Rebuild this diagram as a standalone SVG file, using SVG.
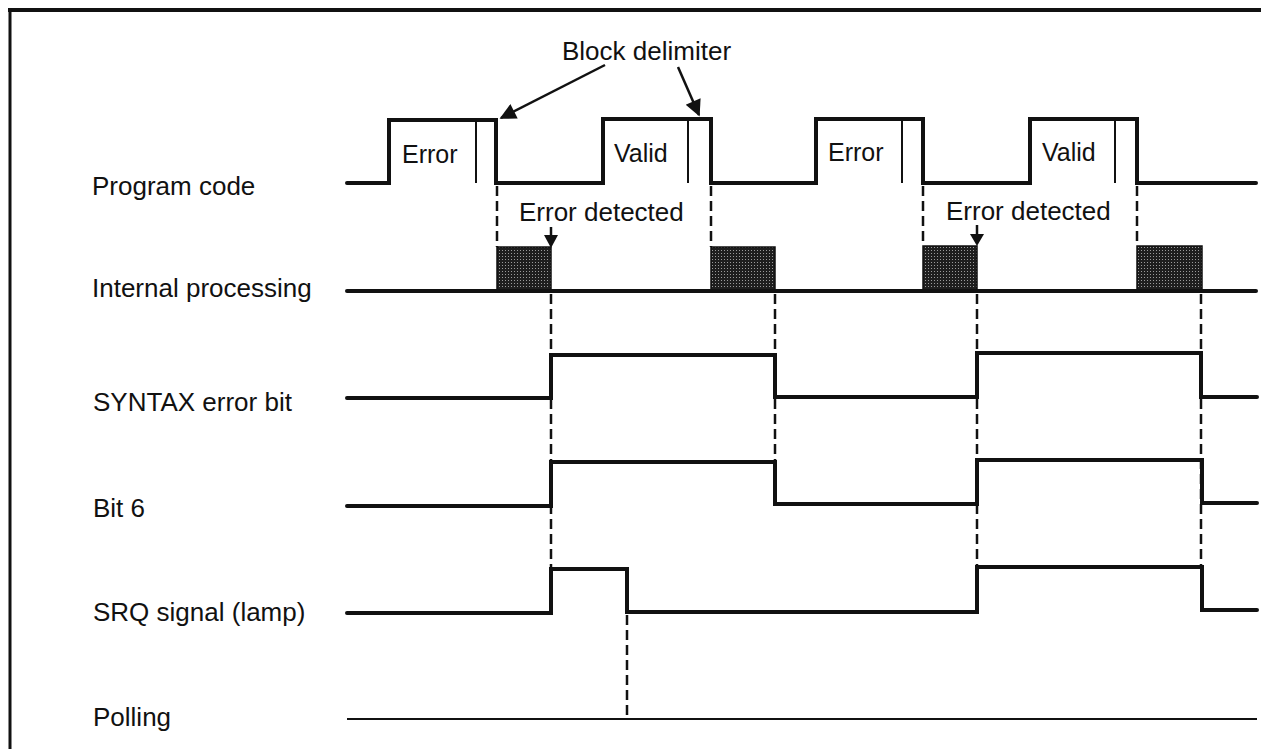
<svg xmlns="http://www.w3.org/2000/svg" width="1261" height="749" viewBox="0 0 1261 749">
<style>
.lbl{font-family:"Liberation Sans",Arial,sans-serif;font-size:26px;fill:#111}
.box{font-family:"Liberation Sans",Arial,sans-serif;font-size:25px;fill:#111}
.wave{fill:none;stroke:#111;stroke-width:4;stroke-linejoin:miter;stroke-linecap:round}
.div{stroke:#111;stroke-width:2}
.dash{stroke:#111;stroke-width:2.5;stroke-dasharray:10 5;fill:none}
.arr{stroke:#111;stroke-width:2.5;fill:none}
.blk{fill:url(#stip);stroke:#111;stroke-width:1.5}
</style>
<defs>
<pattern id="stip" width="3" height="3" patternUnits="userSpaceOnUse">
<rect width="3" height="3" fill="#1e1e1e"/>
<rect x="1" y="1" width="1" height="1" fill="#9a9a9a"/>
</pattern>
<marker id="ah" viewBox="0 0 10 10" refX="9" refY="5" markerWidth="8" markerHeight="6.5" orient="auto" markerUnits="strokeWidth">
<path d="M0,0 L10,5 L0,10 z" fill="#111"/>
</marker>
</defs>
<rect width="1261" height="749" fill="#fff"/>
<g id="frame">
<line x1="8" y1="10" x2="1261" y2="10" stroke="#111" stroke-width="4"/>
<line x1="10" y1="8" x2="10" y2="749" stroke="#111" stroke-width="3"/>
</g>
<g id="labels">
<text class="lbl" x="92" y="195">Program code</text>
<text class="lbl" x="92" y="297">Internal processing</text>
<text class="lbl" x="93" y="411">SYNTAX error bit</text>
<text class="lbl" x="93" y="517">Bit 6</text>
<text class="lbl" x="93" y="621">SRQ signal (lamp)</text>
<text class="lbl" x="93" y="726">Polling</text>
</g>
<g id="program-code">
<path class="wave" d="M347,183 H389 V120 H496 V183 H603 V119 H711 V183 H816 V119 H923 V183 H1030 V119 H1137 V183 H1256"/>
<line class="div" x1="476" y1="120" x2="476" y2="183"/>
<line class="div" x1="688" y1="119" x2="688" y2="183"/>
<line class="div" x1="902" y1="119" x2="902" y2="183"/>
<line class="div" x1="1115" y1="119" x2="1115" y2="183"/>
<text class="box" x="402" y="163">Error</text>
<text class="box" x="614" y="162">Valid</text>
<text class="box" x="828" y="161">Error</text>
<text class="box" x="1042" y="161">Valid</text>
</g>
<g id="internal-processing">
<rect class="blk" x="497" y="247" width="54" height="44"/>
<rect class="blk" x="711" y="247" width="64" height="44"/>
<rect class="blk" x="923" y="246" width="54" height="45"/>
<rect class="blk" x="1137" y="246" width="65" height="45"/>
<path class="wave" d="M347,291 H1256"/>
</g>
<g id="syntax-error-bit">
<path class="wave" d="M347,398 H551 V355 H775 V397 H977 V353 H1201 V397 H1257"/>
</g>
<g id="bit-6">
<path class="wave" d="M347,506 H551 V462 H775 V504 H977 V460 H1202 V503 H1257"/>
</g>
<g id="srq-signal">
<path class="wave" d="M347,613 H551 V569 H627 V612 H977 V567 H1202 V610 H1257"/>
</g>
<g id="polling">
<path d="M347,719 H1257" stroke="#111" stroke-width="2" fill="none"/>
</g>
<g id="annotations">
<text class="lbl" x="562" y="60">Block delimiter</text>
<text class="lbl" x="519" y="221">Error detected</text>
<text class="lbl" x="946" y="220">Error detected</text>
</g>
<g id="connectors">
<line class="dash" x1="497" y1="186" x2="497" y2="247"/>
<line class="dash" x1="711" y1="186" x2="711" y2="247"/>
<line class="dash" x1="923" y1="186" x2="923" y2="246"/>
<line class="dash" x1="1137" y1="186" x2="1137" y2="246"/>
<line class="dash" x1="551" y1="294" x2="551" y2="569"/>
<line class="dash" x1="775" y1="294" x2="775" y2="462"/>
<line class="dash" x1="977" y1="294" x2="977" y2="567"/>
<line class="dash" x1="1201" y1="294" x2="1201" y2="567"/>
<line class="dash" x1="627" y1="615" x2="627" y2="719"/>
<line class="arr" x1="605" y1="65" x2="501" y2="118" marker-end="url(#ah)"/>
<line class="arr" x1="678" y1="67" x2="699" y2="115" marker-end="url(#ah)"/>
<line class="arr" x1="551" y1="227" x2="551" y2="238"/>
<path d="M544,235 L558,235 L551,248 z" fill="#111"/>
<line class="arr" x1="977" y1="225" x2="977" y2="236"/>
<path d="M970,234 L984,234 L977,246 z" fill="#111"/>
</g>
</svg>
